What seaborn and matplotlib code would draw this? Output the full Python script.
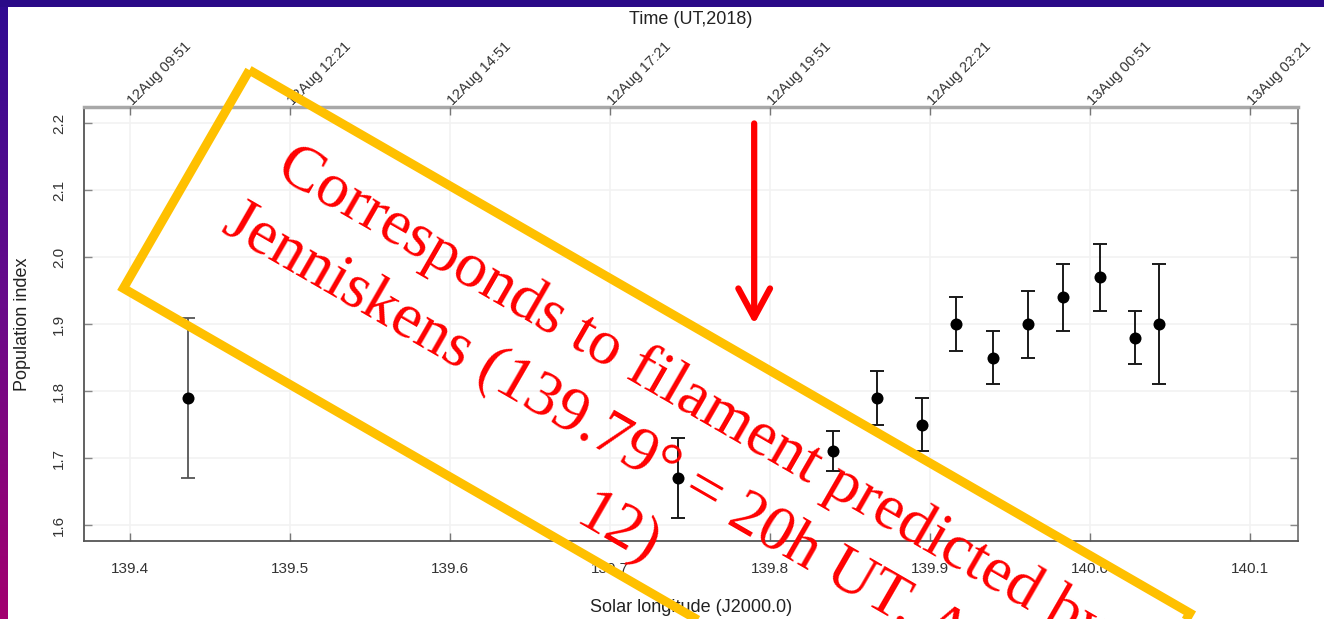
import numpy as np
import pandas as pd
import matplotlib
matplotlib.use("Agg")
import matplotlib.pyplot as plt
import seaborn as sns
from matplotlib.patches import Polygon, Rectangle
from matplotlib.colors import LinearSegmentedColormap

# Population index measurements versus solar longitude
sol_long = [139.436, 139.7425, 139.839, 139.867, 139.895, 139.916,
            139.939, 139.961, 139.983, 140.006, 140.028, 140.043]
pop_index = [1.79, 1.67, 1.71, 1.79, 1.75, 1.90, 1.85, 1.90, 1.94, 1.97, 1.88, 1.90]
pop_low = [1.67, 1.61, 1.68, 1.75, 1.71, 1.86, 1.81, 1.85, 1.89, 1.92, 1.84, 1.81]
pop_high = [1.91, 1.73, 1.74, 1.83, 1.79, 1.94, 1.89, 1.95, 1.99, 2.02, 1.92, 1.99]

x_ticks = [139.4, 139.5, 139.6, 139.7, 139.8, 139.9, 140.0, 140.1]
x_tick_labels = ["139.4", "139.5", "139.6", "139.7", "139.8", "139.9", "140.0", "140.1"]
y_ticks = [1.6, 1.7, 1.8, 1.9, 2.0, 2.1, 2.2]
y_tick_labels = ["1.6", "1.7", "1.8", "1.9", "2.0", "2.1", "2.2"]
time_labels = ["12Aug 09:51", "12Aug 12:21", "12Aug 14:51", "12Aug 17:21",
               "12Aug 19:51", "12Aug 22:21", "13Aug 00:51", "13Aug 03:21"]

filament_long = 139.79
arrow_top, arrow_tip = 2.20, 1.90
note_lines = ["Corresponds to filament predicted by",
              "Jenniskens (139.79\u00b0 = 20h UT, Aug",
              "12)"]

df = pd.DataFrame({"sol": sol_long, "pop": pop_index, "low": pop_low, "high": pop_high})

sns.set_theme(style="ticks")
plt.rcParams["font.family"] = ["Liberation Sans", "DejaVu Sans"]

W, H = 1324, 619
fig = plt.figure(figsize=(W / 100, H / 100), dpi=100, facecolor="white")

# slide decoration: gradient bar on the left, dark band on top
bar_ax = fig.add_axes([0, 0, 8 / W, 1])
grad = np.linspace(0, 1, 256).reshape(-1, 1)
cmap = LinearSegmentedColormap.from_list("slide", ["#2f0a92", "#6a0a8a", "#a3006f"])
bar_ax.imshow(grad, aspect="auto", cmap=cmap, extent=[0, 1, 1, 0])
bar_ax.set_axis_off()
fig.add_artist(Rectangle((0, 1 - 7 / H), 1, 7 / H, transform=fig.transFigure,
                         facecolor="#2a0a88", edgecolor="none", zorder=5))

ax = fig.add_axes([84 / W, 1 - 541 / H, (1298 - 84) / W, (541 - 107) / H])
ax.set_facecolor("white")

tick_col = "#333333"
ax.grid(True, color="#f2f2f2", lw=1.2)
ax.set_axisbelow(True)

wide = df.iloc[:1]
rest = df.iloc[1:]
ax.errorbar(wide["sol"], wide["pop"], yerr=[wide["pop"] - wide["low"], wide["high"] - wide["pop"]],
            fmt="none", ecolor="#555555", elinewidth=1.3, capsize=5, capthick=1.3, zorder=2)
ax.errorbar(rest["sol"], rest["pop"], yerr=[rest["pop"] - rest["low"], rest["high"] - rest["pop"]],
            fmt="none", ecolor="#1a1a1a", elinewidth=1.4, capsize=5, capthick=1.4, zorder=2)
sns.scatterplot(data=df, x="sol", y="pop", color="black", s=75, linewidth=0, ax=ax, zorder=3)

ax.set_xlim(139.371, 140.130)
ax.set_ylim(1.576, 2.2246)
ax.set_xticks(x_ticks)
ax.set_xticklabels(x_tick_labels)
ax.set_yticks(y_ticks)
ax.set_yticklabels(y_tick_labels, rotation=90, va="center")
ax.tick_params(axis="x", direction="in", length=6, width=1, color="#777777",
               labelsize=11, labelcolor=tick_col, pad=15)
ax.tick_params(axis="y", direction="in", length=6, width=1, color="#888888",
               labelsize=11, labelcolor=tick_col, pad=13, right=True)
ax.set_xlabel("Solar longitude (J2000.0)", fontsize=13, color="#222222", labelpad=17)
ax.set_ylabel("Population index", fontsize=13, color="#222222", labelpad=15)

for side in ["left", "bottom"]:
    ax.spines[side].set_color("#555555")
    ax.spines[side].set_linewidth(1.3)
ax.spines["right"].set_color("#777777")
ax.spines["right"].set_linewidth(1.3)
ax.spines["top"].set_color("#a8a8a8")
ax.spines["top"].set_linewidth(2.5)

# time axis on top
ax_top = ax.twiny()
ax_top.set_xlim(ax.get_xlim())
ax_top.set_xticks(x_ticks)
ax_top.set_xticklabels(time_labels, rotation=45, ha="left", va="center",
                       rotation_mode="anchor")
ax_top.tick_params(axis="x", direction="in", length=6, width=1, color="#777777",
                   labelsize=10.5, labelcolor=tick_col, pad=3)
for s in ax_top.spines.values():
    s.set_visible(False)
fig.text(691 / W, 1 - 20 / H, "Time (UT,2018)", ha="center", va="center",
         fontsize=13, color="#222222")

# arrow marking the predicted filament
ax.annotate("", xy=(filament_long, arrow_tip), xytext=(filament_long, arrow_top),
            arrowprops=dict(arrowstyle="->,head_length=0.7,head_width=0.38",
                            color="red", lw=4.5, mutation_scale=30,
                            shrinkA=0, shrinkB=0),
            annotation_clip=False, zorder=6)

# rotated callout box with its note
ang = np.deg2rad(30)
u_dir = np.array([np.cos(ang), np.sin(ang)])
v_dir = np.array([-np.sin(ang), np.cos(ang)])


def to_fig(u, v):
    p = u * u_dir + v * v_dir
    return (p[0] / W, 1 - p[1] / H)


box_u = (251, 1337)
box_v = (-64, 188)
corners = [to_fig(box_u[0], box_v[0]), to_fig(box_u[1], box_v[0]),
           to_fig(box_u[1], box_v[1]), to_fig(box_u[0], box_v[1])]
fig.add_artist(Polygon(corners, closed=True, fill=False, edgecolor="#ffc000",
                       lw=6.5, joinstyle="miter", transform=fig.transFigure, zorder=7))

line_starts = [(325, 14), (306, 90), (758, 166)]
for line, (u0, v0) in zip(note_lines, line_starts):
    tx, ty = to_fig(u0, v0)
    fig.text(tx, ty, line, rotation=-30, rotation_mode="anchor",
             ha="left", va="baseline", fontsize=46, color="#ff0000",
             family=["Liberation Serif", "DejaVu Serif"], zorder=8)

fig.savefig("out.png", dpi=100, facecolor="white")
